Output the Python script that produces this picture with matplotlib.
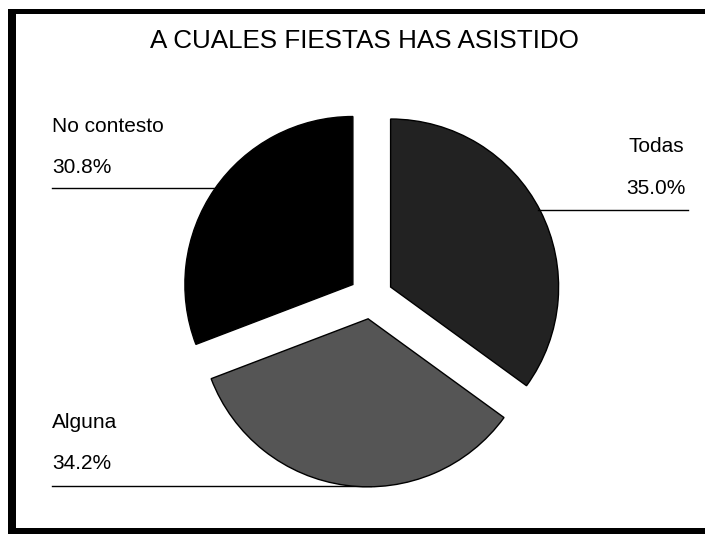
import numpy as np
import matplotlib
matplotlib.use("Agg")
import matplotlib.pyplot as plt

plt.rcParams['font.family'] = ['Liberation Sans', 'DejaVu Sans']

# datos
titulo = 'A CUALES FIESTAS HAS ASISTIDO'
categorias = ['Todas', 'Alguna', 'No contesto']
porcentajes = [35.0, 34.2, 30.8]
colores = ['#222222', '#555555', '#000000']

W, H = 705, 534
fig = plt.figure(figsize=(W / 100, H / 100), dpi=100)
ax = fig.add_axes([0, 0, 1, 1])

# geometria del pastel (pixeles, y hacia arriba)
cx, cy = 371, H - 297
r = 168
d = 22

ax.pie(porcentajes, colors=colores, startangle=90, counterclock=False,
       radius=r, center=(cx, cy), explode=[d] * 3,
       wedgeprops=dict(edgecolor='black', linewidth=1.0))
ax.set_xlim(0, W)
ax.set_ylim(0, H)
ax.set_aspect('auto')
ax.axis('off')

# centros de cada porcion desplazada
fr = np.array(porcentajes) / sum(porcentajes)
t1 = 90 - 360 * np.concatenate([[0], np.cumsum(fr)[:-1]])
t2 = t1 - 360 * fr
tm = np.radians((t1 + t2) / 2)
centros = [(cx + d * np.cos(a), cy + d * np.sin(a)) for a in tm]


def borde_x(i, y_pix, lado):
    px, py = centros[i]
    y = H - y_pix
    return px + lado * np.sqrt(max(r ** 2 - (y - py) ** 2, 0))


fs = 15
# Todas
ax.text(684, H - 152, categorias[0], fontsize=fs, ha='right', va='baseline')
ax.text(686, H - 194, f'{porcentajes[0]:.1f}%', fontsize=fs, ha='right', va='baseline')
ax.plot([borde_x(0, 210, 1) - 2, 688], [H - 210, H - 210], color='black', lw=1)

# No contesto
ax.text(52, H - 132, categorias[2], fontsize=fs, ha='left', va='baseline')
ax.text(52, H - 173, f'{porcentajes[2]:.1f}%', fontsize=fs, ha='left', va='baseline')
ax.plot([52, borde_x(2, 188, -1) + 2], [H - 188, H - 188], color='black', lw=1)

# Alguna
ax.text(52, H - 428, categorias[1], fontsize=fs, ha='left', va='baseline')
ax.text(52, H - 469, f'{porcentajes[1]:.1f}%', fontsize=fs, ha='left', va='baseline')
ax.plot([52, cx], [H - 486, H - 486], color='black', lw=1, zorder=0)

# titulo
ax.text(364, H - 48, titulo, fontsize=18.7, ha='center', va='baseline')

# marco
ax.fill_between([8, 16], H - 534, H - 9, color='black', lw=0)
ax.fill_between([8, W], H - 14, H - 9, color='black', lw=0)
ax.fill_between([8, W], 0, H - 528, color='black', lw=0)

fig.savefig('out.png', dpi=100)
